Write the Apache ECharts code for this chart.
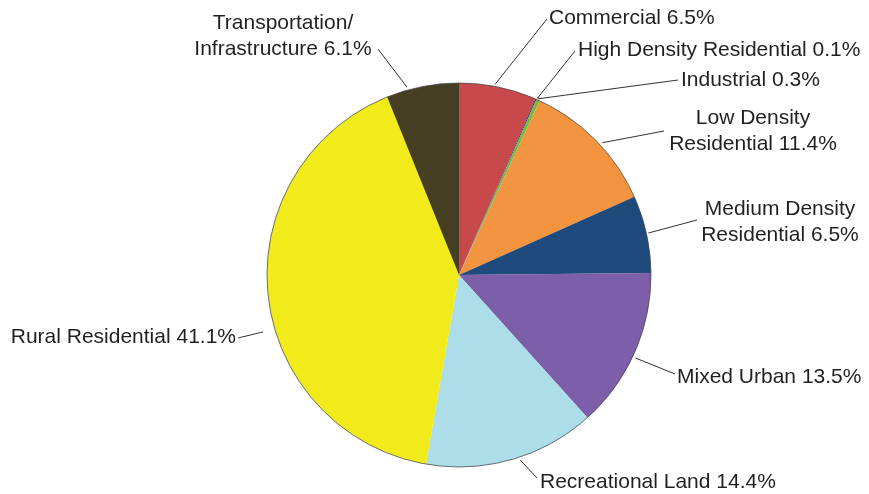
<!DOCTYPE html>
<html>
<head>
<meta charset="utf-8">
<script src="https://cdn.jsdelivr.net/npm/echarts@6/dist/echarts.min.js"></script>
<style>
html,body{margin:0;padding:0;background:#fff;}
#chart{width:869px;height:494px;}
</style>
</head>
<body>
<div id="chart"></div>
<script>
// ---- data ----
const categories = ['Commercial', 'High Density Residential', 'Industrial', 'Low Density Residential',
  'Medium Density Residential', 'Mixed Urban', 'Recreational Land', 'Rural Residential', 'Transportation/Infrastructure'];
const labelNames = ['Commercial', 'High Density Residential', 'Industrial', 'Low Density\nResidential',
  'Medium Density\nResidential', 'Mixed Urban', 'Recreational Land', 'Rural Residential', 'Transportation/\nInfrastructure'];
const values = [6.5, 0.1, 0.3, 11.4, 6.5, 13.5, 14.4, 41.1, 6.1];
const colors = ['#c8494c', '#3b3163', '#78b843', '#f39441', '#1f4a7c', '#7d5ea8', '#acdde9', '#f2eb1c', '#463e22'];

// ---- label placement (styling only) ----
const CX = 459, CY = 275, R = 192;
const labelPlace = [
  {x: 549, y: 18,  align: 'left',   ang: 10.7,  r: 194, end: [547, 19]},
  {x: 578, y: 50,  align: 'left',   ang: 23.9,  r: 193, end: [575, 51]},
  {x: 681, y: 80,  align: 'left',   ang: 24.1,  r: 193, end: [678, 80]},
  {x: 753, y: 131, align: 'center', ang: 47.3,  r: 195, end: [664, 131]},
  {x: 780, y: 222, align: 'center', ang: 77.5,  r: 194, end: [697, 220]},
  {x: 677, y: 377, align: 'left',   ang: 115.2, r: 195, end: [675, 374]},
  {x: 540, y: 482, align: 'left',   ang: 161.7, r: 195, end: [537, 478]},
  {x: 236, y: 337, align: 'right',  ang: 253.8, r: 204, end: [238, 338]},
  {x: 283, y: 36,  align: 'center', ang: 344.5, r: 195, end: [378, 49]}
];

const chart = echarts.init(document.getElementById('chart'), null, {renderer: 'canvas'});
const seriesData = categories.map((c, i) => ({
  name: c,
  value: values[i],
  itemStyle: {color: colors[i]},
  label: {formatter: labelNames[i] + ' ' + values[i].toFixed(1) + '%'}
}));

chart.setOption({
  backgroundColor: '#ffffff',
  animation: false,
  series: [{
    type: 'pie',
    center: [CX, CY],
    radius: R,
    startAngle: 90,
    clockwise: true,
    avoidLabelOverlap: false,
    data: seriesData,
    itemStyle: {borderWidth: 0},
    label: {
      show: true,
      position: 'outside',
      fontFamily: 'Liberation Sans, Arial, sans-serif',
      fontSize: 21,
      lineHeight: 26,
      color: '#231f20'
    },
    labelLine: {
      show: true,
      lineStyle: {color: '#333', width: 1}
    },
    emphasis: {disabled: true},
    labelLayout: function (params) {
      const p = labelPlace[params.dataIndex];
      const a = p.ang * Math.PI / 180;
      const sx = CX + p.r * Math.sin(a);
      const sy = CY - p.r * Math.cos(a);
      return {
        x: p.x,
        y: p.y,
        align: p.align,
        verticalAlign: 'middle',
        labelLinePoints: [[sx, sy], p.end, p.end]
      };
    }
  }, {
    type: 'pie',
    center: [CX, CY],
    radius: R,
    silent: true,
    data: [{value: 1}],
    itemStyle: {color: 'rgba(0,0,0,0)', borderColor: 'rgba(70,70,70,0.75)', borderWidth: 1},
    label: {show: false},
    labelLine: {show: false},
    emphasis: {disabled: true},
    tooltip: {show: false}
  }]
});
</script>
</body>
</html>
